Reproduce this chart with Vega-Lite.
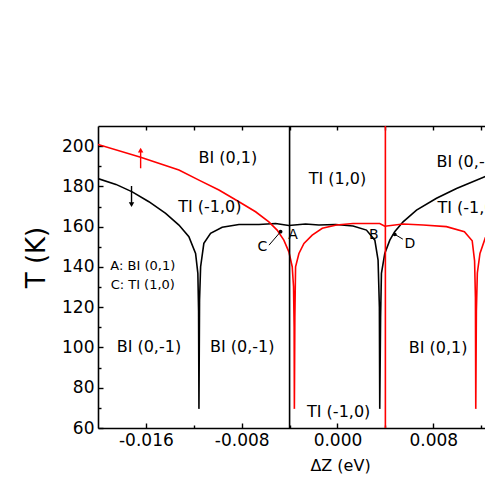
{
  "$schema": "https://vega.github.io/schema/vega-lite/v6.json",
  "width": 387,
  "height": 302,
  "autosize": {"type": "none"},
  "padding": {"left": 98, "top": 126, "right": 0, "bottom": 57},
  "background": "white",
  "config": {
    "view": {"stroke": null},
    "font": "DejaVu Sans",
    "axis": {"grid": false, "domainColor": "black", "domainWidth": 1.6, "tickColor": "black", "tickWidth": 1.4, "labelColor": "black", "titleColor": "black", "labelFont": "DejaVu Sans", "titleFont": "DejaVu Sans", "titleFontWeight": "normal"}
  },
  "datasets": {
    "curves": [
      {"s": "black", "x": -0.0200, "T": 183.9},
      {"s": "black", "x": -0.0185, "T": 181.0},
      {"s": "black", "x": -0.01714, "T": 177.3},
      {"s": "black", "x": -0.01575, "T": 172.4},
      {"s": "black", "x": -0.01435, "T": 166.6},
      {"s": "black", "x": -0.01324, "T": 160.8},
      {"s": "black", "x": -0.01241, "T": 155.0},
      {"s": "black", "x": -0.01185, "T": 146.7},
      {"s": "black", "x": -0.01166, "T": 136.8},
      {"s": "black", "x": -0.0116, "T": 118.0},
      {"s": "black", "x": -0.01157, "T": 69.5},
      {"s": "black", "x": -0.01152, "T": 123.6},
      {"s": "black", "x": -0.01143, "T": 140.1},
      {"s": "black", "x": -0.01116, "T": 151.7},
      {"s": "black", "x": -0.0106, "T": 156.7},
      {"s": "black", "x": -0.00963, "T": 159.7},
      {"s": "black", "x": -0.00823, "T": 161.1},
      {"s": "black", "x": -0.00656, "T": 161.1},
      {"s": "black", "x": -0.00517, "T": 161.6},
      {"s": "black", "x": -0.00406, "T": 160.6},
      {"s": "black", "x": -0.00267, "T": 161.3},
      {"s": "black", "x": -0.00155, "T": 160.8},
      {"s": "black", "x": -0.00016, "T": 161.1},
      {"s": "black", "x": 0.0013, "T": 160.3},
      {"s": "black", "x": 0.00242, "T": 158.3},
      {"s": "black", "x": 0.00312, "T": 153.3},
      {"s": "black", "x": 0.00339, "T": 143.4},
      {"s": "black", "x": 0.0035, "T": 120.0},
      {"s": "black", "x": 0.00353, "T": 69.5},
      {"s": "black", "x": 0.0036, "T": 115.0},
      {"s": "black", "x": 0.00367, "T": 136.8},
      {"s": "black", "x": 0.00395, "T": 146.7},
      {"s": "black", "x": 0.00437, "T": 153.3},
      {"s": "black", "x": 0.00478, "T": 157.5},
      {"s": "black", "x": 0.00548, "T": 162.4},
      {"s": "black", "x": 0.0066, "T": 168.2},
      {"s": "black", "x": 0.00827, "T": 174.1},
      {"s": "black", "x": 0.00994, "T": 179.0},
      {"s": "black", "x": 0.0123, "T": 184.8},
      {"s": "black", "x": 0.0135, "T": 187.3},
      {"s": "red", "x": -0.0200, "T": 200.8},
      {"s": "red", "x": -0.01644, "T": 194.5},
      {"s": "red", "x": -0.01324, "T": 188.1},
      {"s": "red", "x": -0.01157, "T": 183.1},
      {"s": "red", "x": -0.0099, "T": 178.2},
      {"s": "red", "x": -0.00823, "T": 172.4},
      {"s": "red", "x": -0.00684, "T": 167.4},
      {"s": "red", "x": -0.00573, "T": 162.4},
      {"s": "red", "x": -0.00504, "T": 158.3},
      {"s": "red", "x": -0.00448, "T": 153.3},
      {"s": "red", "x": -0.00406, "T": 147.5},
      {"s": "red", "x": -0.00378, "T": 140.1},
      {"s": "red", "x": -0.00367, "T": 130.2},
      {"s": "red", "x": -0.00362, "T": 110.0},
      {"s": "red", "x": -0.0036, "T": 69.5},
      {"s": "red", "x": -0.00356, "T": 115.0},
      {"s": "red", "x": -0.0035, "T": 140.1},
      {"s": "red", "x": -0.00322, "T": 146.7},
      {"s": "red", "x": -0.0028, "T": 151.7},
      {"s": "red", "x": -0.00211, "T": 155.8},
      {"s": "red", "x": -0.00127, "T": 159.2},
      {"s": "red", "x": -0.00008, "T": 160.8},
      {"s": "red", "x": 0.0013, "T": 161.6},
      {"s": "red", "x": 0.00353, "T": 161.6},
      {"s": "red", "x": 0.00395, "T": 160.2},
      {"s": "red", "x": 0.00548, "T": 161.3},
      {"s": "red", "x": 0.00715, "T": 160.8},
      {"s": "red", "x": 0.0091, "T": 160.0},
      {"s": "red", "x": 0.0106, "T": 157.5},
      {"s": "red", "x": 0.01125, "T": 153.0},
      {"s": "red", "x": 0.01145, "T": 143.0},
      {"s": "red", "x": 0.01152, "T": 125.0},
      {"s": "red", "x": 0.01155, "T": 69.5},
      {"s": "red", "x": 0.0116, "T": 118.0},
      {"s": "red", "x": 0.01168, "T": 137.0},
      {"s": "red", "x": 0.0119, "T": 146.7},
      {"s": "red", "x": 0.01235, "T": 154.5},
      {"s": "red", "x": 0.0130, "T": 160.0}
    ],
    "vlines": [
      {"s": "black", "x": -0.004},
      {"s": "red", "x": 0.004}
    ],
    "labels": [
      {"kind": "big", "text": "BI (0,1)", "x": -0.00915, "T": 194.0},
      {"kind": "big", "text": "TI (-1,0)", "x": -0.01066, "T": 169.7},
      {"kind": "big", "text": "TI (1,0)", "x": 0.0000, "T": 183.5},
      {"kind": "big", "text": "BI (0,-1)", "x": 0.01097, "T": 192.0},
      {"kind": "big", "text": "TI (-1,0)", "x": 0.01099, "T": 169.1},
      {"kind": "big", "text": "BI (0,-1)", "x": -0.01575, "T": 100.4},
      {"kind": "big", "text": "BI (0,-1)", "x": -0.00796, "T": 100.0},
      {"kind": "big", "text": "TI (-1,0)", "x": 0.0001, "T": 68.1},
      {"kind": "big", "text": "BI (0,1)", "x": 0.0084, "T": 99.6},
      {"kind": "letter", "text": "A", "x": -0.00372, "T": 155.8},
      {"kind": "letter", "text": "B", "x": 0.00303, "T": 155.8},
      {"kind": "letter", "text": "C", "x": -0.00628, "T": 150.0},
      {"kind": "letter", "text": "D", "x": 0.00604, "T": 151.4},
      {"kind": "small", "text": "A: BI (0,1)", "x": -0.01626, "T": 140.6},
      {"kind": "small", "text": "C: TI (1,0)", "x": -0.01626, "T": 131.0}
    ],
    "leaders": [
      {"x": -0.00572, "T": 150.8, "x2": -0.00475, "T2": 157.5},
      {"x": 0.00546, "T": 153.8, "x2": 0.00478, "T2": 156.2}
    ],
    "arrows": [
      {"s": "red", "x": -0.01644, "T": 189.0, "T2": 198.0},
      {"s": "black", "x": -0.0172, "T": 180.2, "T2": 171.0}
    ]
  },
  "encoding": {
    "x": {"field": "x", "type": "quantitative", "scale": {"domain": [-0.020, 0.01232], "nice": false, "zero": false}, "axis": null},
    "y": {"field": "T", "type": "quantitative", "scale": {"domain": [60, 210], "nice": false, "zero": false}, "axis": null}
  },
  "layer": [
    {
      "data": {"name": "curves"},
      "mark": {"type": "line", "clip": true, "strokeWidth": 1.6},
      "encoding": {
        "x": {"field": "x", "type": "quantitative", "scale": {"domain": [-0.020, 0.01232], "nice": false, "zero": false},
          "axis": {"orient": "bottom", "values": [-0.016, -0.008, 0, 0.008],
            "labelExpr": "(datum.value < 0 ? '-' : '') + format(abs(datum.value), '.3f')",
            "tickSize": -5, "labelPadding": 9, "labelFontSize": 17, "labelFlush": false, "labelOverlap": false,
            "title": "ΔZ (eV)", "titleFontSize": 16, "titleX": 242, "titleY": 37, "titleBaseline": "middle", "titleAlign": "center"}},
        "y": {"field": "T", "type": "quantitative", "scale": {"domain": [60, 210], "nice": false, "zero": false},
          "axis": {"orient": "left", "values": [60, 80, 100, 120, 140, 160, 180, 200],
            "tickSize": -5, "labelPadding": 9, "labelFontSize": 17, "labelOverlap": false, "labelFlush": false,
            "title": "T (K)", "titleFontSize": 26, "titleX": -62, "titleY": 131, "titleAngle": 270, "titleAlign": "center", "titleBaseline": "middle"}},
        "color": {"field": "s", "type": "nominal", "scale": {"domain": ["black", "red"], "range": ["#000000", "#ff0000"]}, "legend": null}
      }
    },
    {
      "data": {"name": "vlines"},
      "mark": {"type": "rule", "strokeWidth": 1.6},
      "encoding": {
        "x": {"field": "x", "type": "quantitative", "scale": {"domain": [-0.020, 0.01232], "nice": false, "zero": false},
          "axis": {"orient": "top", "values": [-0.016, -0.012, -0.008, -0.004, 0, 0.004, 0.008, 0.012], "labels": false, "title": null, "tickSize": -4}},
        "y": null,
        "color": {"field": "s", "type": "nominal", "scale": {"domain": ["black", "red"], "range": ["#000000", "#ff0000"]}, "legend": null}
      }
    },
    {
      "data": {"name": "labels"},
      "transform": [{"filter": "datum.kind == 'big'"}],
      "mark": {"type": "text", "fontSize": 16, "align": "center", "baseline": "middle", "color": "black", "font": "DejaVu Sans"},
      "encoding": {
        "x": {"field": "x", "type": "quantitative", "scale": {"domain": [-0.020, 0.01232], "nice": false, "zero": false},
          "axis": {"orient": "bottom", "values": [-0.012, -0.004, 0.004, 0.012], "labels": false, "domain": false, "title": null, "tickSize": -3}},
        "y": {"field": "T", "type": "quantitative", "scale": {"domain": [60, 210], "nice": false, "zero": false},
          "axis": {"orient": "left", "values": [70, 90, 110, 130, 150, 170, 190], "labels": false, "domain": false, "title": null, "tickSize": -3}},
        "text": {"field": "text"}
      }
    },
    {
      "data": {"name": "labels"},
      "transform": [{"filter": "datum.kind == 'letter'"}],
      "mark": {"type": "text", "fontSize": 14, "align": "center", "baseline": "middle", "color": "black", "font": "DejaVu Sans"},
      "encoding": {"text": {"field": "text"}}
    },
    {
      "data": {"name": "labels"},
      "transform": [{"filter": "datum.kind == 'small'"}],
      "mark": {"type": "text", "fontSize": 13, "align": "center", "baseline": "middle", "color": "black", "font": "DejaVu Sans"},
      "encoding": {"text": {"field": "text"}}
    },
    {
      "data": {"name": "leaders"},
      "mark": {"type": "rule", "strokeWidth": 1, "color": "black"},
      "encoding": {"x2": {"field": "x2"}, "y2": {"field": "T2"}}
    },
    {
      "data": {"name": "leaders"},
      "mark": {"type": "point", "filled": true, "size": 14, "color": "black", "opacity": 1},
      "encoding": {
        "x": {"field": "x2", "type": "quantitative", "scale": {"domain": [-0.020, 0.01232], "nice": false, "zero": false}, "axis": null},
        "y": {"field": "T2", "type": "quantitative", "scale": {"domain": [60, 210], "nice": false, "zero": false}, "axis": null}
      }
    },
    {
      "data": {"name": "arrows"},
      "mark": {"type": "rule", "strokeWidth": 1.4},
      "encoding": {
        "y2": {"field": "T2"},
        "color": {"field": "s", "type": "nominal", "scale": {"domain": ["black", "red"], "range": ["#000000", "#ff0000"]}, "legend": null}
      }
    },
    {
      "data": {"name": "arrows"},
      "mark": {"type": "point", "filled": true, "size": 30, "opacity": 1},
      "encoding": {
        "y": {"field": "T2", "type": "quantitative", "scale": {"domain": [60, 210], "nice": false, "zero": false}, "axis": null},
        "color": {"field": "s", "type": "nominal", "scale": {"domain": ["black", "red"], "range": ["#000000", "#ff0000"]}, "legend": null},
        "shape": {"field": "s", "type": "nominal", "scale": {"domain": ["black", "red"], "range": ["triangle-down", "triangle-up"]}, "legend": null}
      }
    }
  ],
  "resolve": {"axis": {"x": "independent", "y": "independent"}}
}
